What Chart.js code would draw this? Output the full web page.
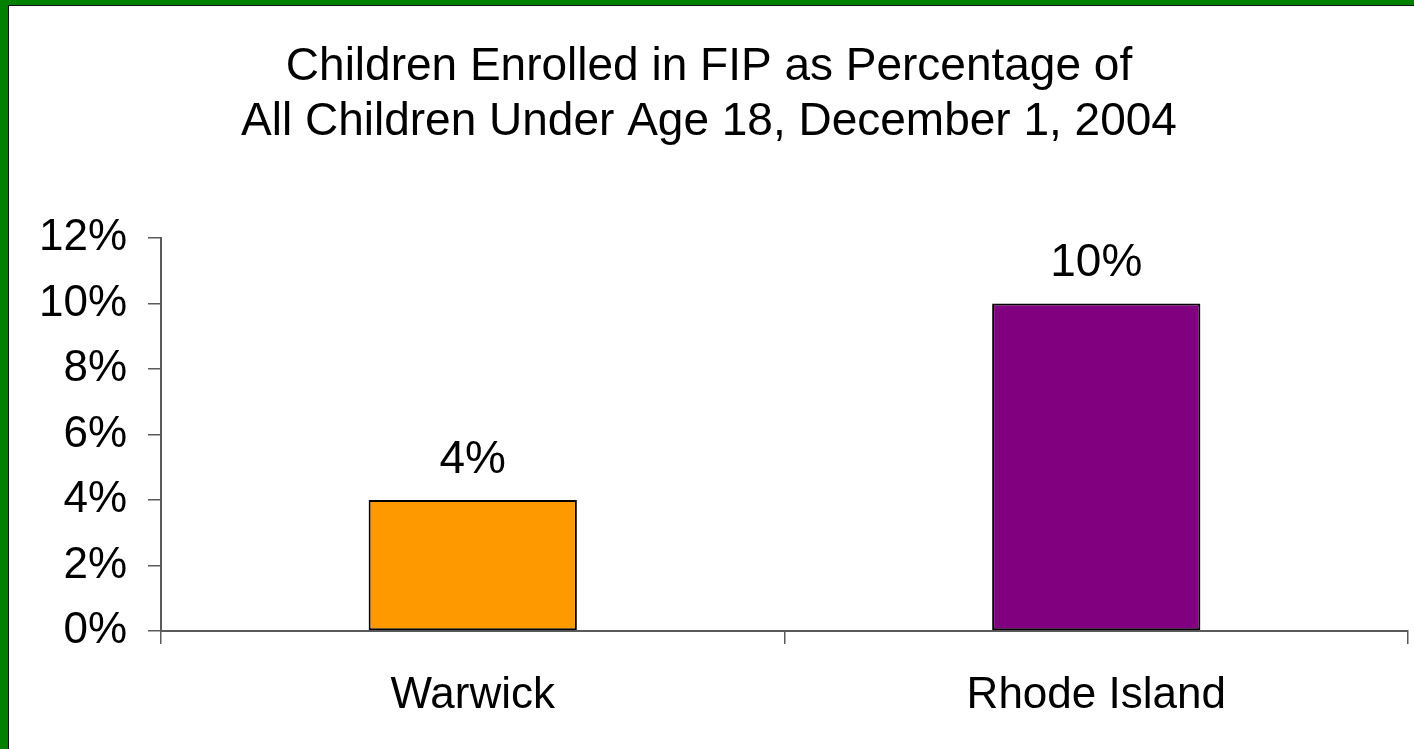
<!DOCTYPE html>
<html>
<head>
<meta charset="utf-8">
<title>Children Enrolled in FIP</title>
<script src="https://cdn.jsdelivr.net/npm/chart.js@4"></script>
<style>
    html, body {
        margin: 0;
        padding: 0;
        background: #ffffff;
        overflow: hidden;
    }
    #frame {
        position: absolute;
        left: 0;
        top: 0;
        width: 1406px;
        height: 744px;
        border-top: 5px solid #008000;
        border-left: 8px solid #008000;
    }
    #inner {
        position: absolute;
        left: 0;
        top: 0;
        width: 1405px;
        height: 743px;
        border-top: 1px solid #111111;
        border-left: 1px solid #111111;
    }
    #chartBox {
        position: absolute;
        left: 1px;
        top: 1px;
        width: 1404px;
        height: 742px;
    }
</style>
</head>
<body>
<div id="frame">
    <div id="inner">
        <div id="chartBox"><canvas id="chart"></canvas></div>
    </div>
</div>
<script>
// Chart data
const titleLines = ["Children Enrolled in FIP as Percentage of", "All Children Under Age 18, December 1, 2004"];
const categories = ["Warwick", "Rhode Island"];
const percentValues = [4, 10];
const barColors = ["#FF9900", "#800080"];
const yTickMax = 12;
const yTickStep = 2;

const fontFamily = "'Liberation Sans', Arial, sans-serif";

// Draws the value labels above each bar
const valueLabels = {
    id: 'valueLabels',
    afterDatasetsDraw(chart) {
        const ctx = chart.ctx;
        const meta = chart.getDatasetMeta(0);
        ctx.save();
        ctx.font = '46px ' + fontFamily;
        ctx.fillStyle = '#000000';
        ctx.textAlign = 'center';
        ctx.textBaseline = 'middle';
        meta.data.forEach((bar, i) => {
            ctx.fillText(percentValues[i] + '%', bar.x, bar.y - 40);
        });
        ctx.restore();
    }
};

const ctx = document.getElementById('chart');
new Chart(ctx, {
    type: 'bar',
    data: {
        labels: categories,
        datasets: [{
            data: percentValues,
            backgroundColor: barColors,
            borderColor: '#000000',
            borderWidth: 2,
            borderSkipped: false,
            barPercentage: 1,
            categoryPercentage: 0.334
        }]
    },
    options: {
        responsive: true,
        maintainAspectRatio: false,
        animation: false,
        devicePixelRatio: 1,
        layout: {
            padding: { left: 0, right: 6, top: 0, bottom: 0 }
        },
        plugins: {
            legend: { display: false },
            tooltip: { enabled: false },
            title: {
                display: true,
                text: titleLines,
                color: '#000000',
                font: { family: fontFamily, size: 46, weight: 'normal', lineHeight: 55 / 46 },
                padding: { top: 33, bottom: 88 }
            }
        },
        scales: {
            x: {
                grid: {
                    display: true,
                    drawOnChartArea: false,
                    drawTicks: true,
                    tickLength: 13,
                    color: '#5a5a5a',
                    lineWidth: 1.5,
                    offset: true
                },
                border: { display: true, color: '#5a5a5a', width: 2 },
                ticks: {
                    color: '#000000',
                    padding: 25,
                    font: { family: fontFamily, size: 44 }
                },
                afterFit(scale) {
                    scale.height = 118;
                }
            },
            y: {
                min: 0,
                max: yTickMax,
                grid: {
                    display: true,
                    drawOnChartArea: false,
                    drawTicks: true,
                    tickLength: 13,
                    color: '#5a5a5a',
                    lineWidth: 1.5
                },
                border: { display: true, color: '#5a5a5a', width: 2 },
                ticks: {
                    stepSize: yTickStep,
                    color: '#000000',
                    padding: 21,
                    font: { family: fontFamily, size: 44 },
                    callback: function(value) {
                        return value + '%';
                    }
                },
                afterFit(scale) {
                    scale.width = 151;
                }
            }
        }
    },
    plugins: [valueLabels]
});
</script>
</body>
</html>
